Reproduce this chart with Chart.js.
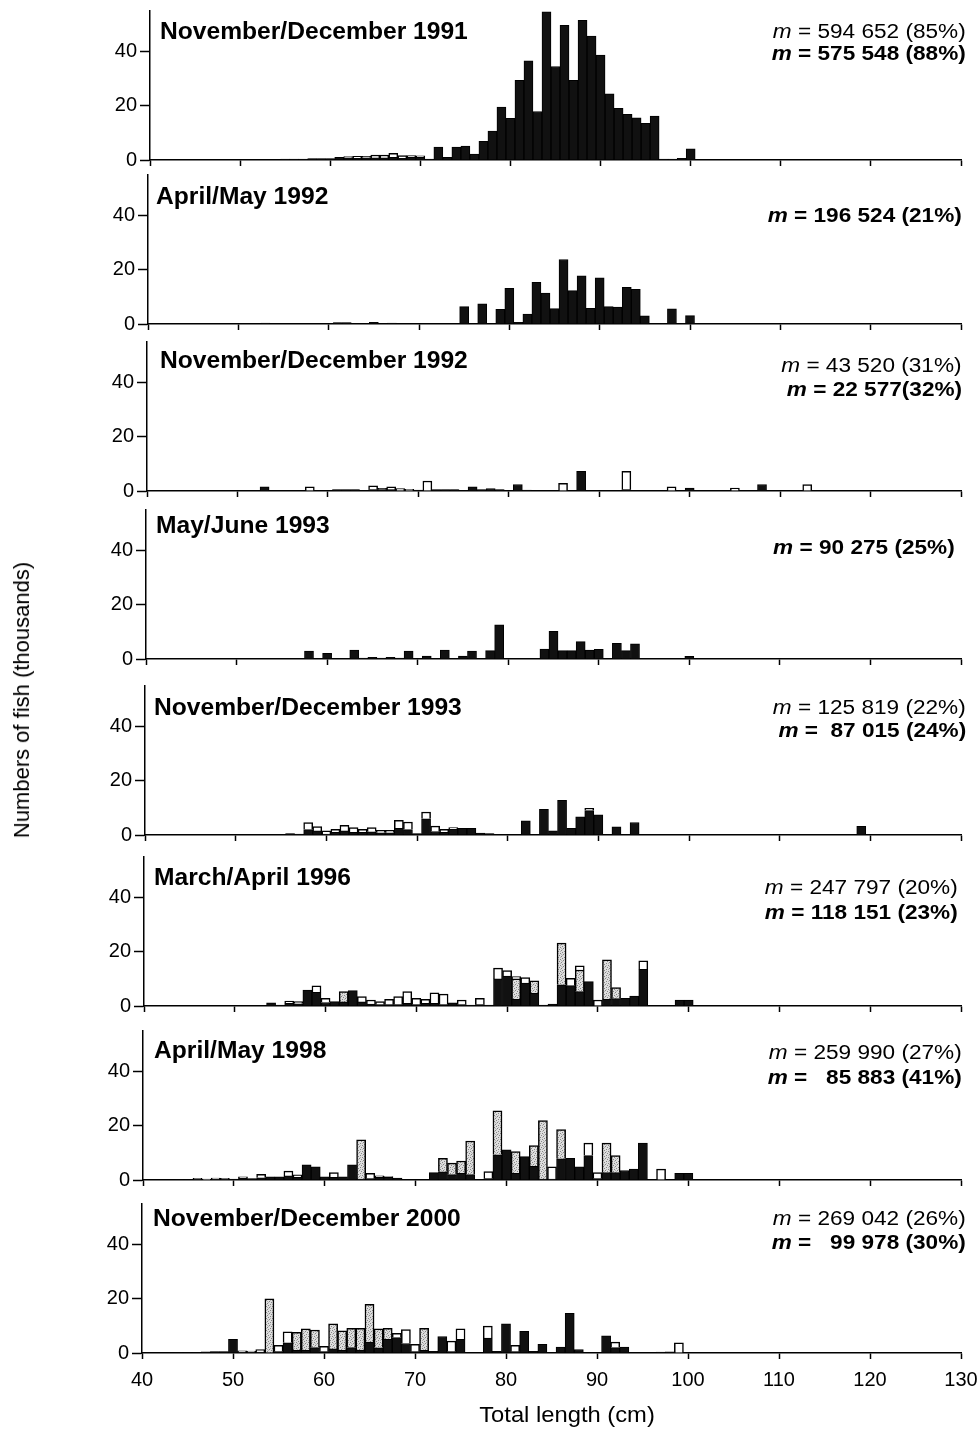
<!DOCTYPE html>
<html>
<head>
<meta charset="utf-8">
<title>Length frequency distributions</title>
<script src="https://cdn.jsdelivr.net/npm/chart.js@4.4.1/dist/chart.umd.min.js"></script>
<style>
  html, body { margin: 0; padding: 0; background: #fff; }
  #page {
    position: relative; width: 979px; height: 1431px; overflow: hidden;
    font-family: 'Liberation Sans', Arial, sans-serif; color: #000;
  }
  #page canvas { position: absolute; left: 0; }
  .txt { position: absolute; white-space: pre; z-index: 2; }
  .title { font-weight: bold; font-size: 23px; line-height: 23px; transform-origin: left center; transform: scaleX(1.07); }
  .mline { font-size: 20px; line-height: 20px; transform-origin: right center; transform: scaleX(1.13); }
  .mline.b { font-weight: bold; }
  .ytitle { font-size: 22px; line-height: 22px; transform: translate(-50%, -50%) rotate(-90deg); }
  .xtitle { font-size: 22px; line-height: 22px; transform: translate(-50%, -50%) scaleX(1.08); }
</style>
</head>
<body>
<div id="page"></div>
<script>
// length classes (cm), one bar per class
const lengthsCm = [
  40, 41, 42, 43, 44, 45, 46, 47, 48, 49,
  50, 51, 52, 53, 54, 55, 56, 57, 58, 59,
  60, 61, 62, 63, 64, 65, 66, 67, 68, 69,
  70, 71, 72, 73, 74, 75, 76, 77, 78, 79,
  80, 81, 82, 83, 84, 85, 86, 87, 88, 89,
  90, 91, 92, 93, 94, 95, 96, 97, 98, 99,
  100, 101, 102, 103, 104, 105, 106, 107, 108, 109,
  110, 111, 112, 113, 114, 115, 116, 117, 118, 119,
  120
];
const xTickValues = [40, 50, 60, 70, 80, 90, 100, 110, 120, 130];
const yTickValues = [0, 20, 40];

const panelTitles = [
  'November/December 1991', 'April/May 1992', 'November/December 1992', 'May/June 1993',
  'November/December 1993', 'March/April 1996', 'April/May 1998', 'November/December 2000'
];
const mRegular = ['594 652 (85%)', '', '43 520 (31%)', '', '125 819 (22%)', '247 797 (20%)', '259 990 (27%)', '269 042 (26%)'];
const mBold = ['575 548 (88%)', '196 524 (21%)', '22 577(32%)', '90 275 (25%)', ' 87 015 (24%)', '118 151 (23%)', '  85 883 (41%)', '  99 978 (30%)'];

// numbers of fish (thousands) per length class, 40..120 cm
const black1991 = [
  0, 0, 0, 0, 0, 0, 0, 0, 0, 0,
  0, 0, 0, 0, 0, 0.3, 0.3, 0.3, 0.5, 0.5,
  0.5, 1.0, 0.8, 0.6, 0.8, 0.8, 0.8, 1.0, 0.6, 1.0,
  1.0, 0.3, 4.8, 1.0, 4.8, 5.1, 2.2, 6.9, 10.7, 19.5,
  15.4, 29.4, 36.6, 17.9, 54.7, 34.5, 49.7, 29.4, 51.6, 45.7,
  38.7, 24.4, 19.1, 16.9, 15.6, 13.5, 16.2, 0.3, 0.3, 0.6,
  4.1, 0, 0, 0, 0, 0, 0, 0, 0, 0,
  0, 0, 0, 0, 0, 0, 0, 0, 0, 0,
  0
];
const open1991 = [
  0, 0, 0, 0, 0, 0, 0, 0, 0, 0,
  0, 0, 0, 0, 0, 0, 0, 0, 0, 0,
  0, 0, 0.5, 0.8, 0.6, 1.0, 1.0, 1.5, 1.0, 0.6,
  0.5, 0, 0, 0, 0, 0, 0, 0, 0, 0,
  0, 0, 0, 0, 0, 0, 0, 0, 0, 0,
  0, 0, 0, 0, 0, 0, 0, 0, 0, 0,
  0, 0, 0, 0, 0, 0, 0, 0, 0, 0,
  0, 0, 0, 0, 0, 0, 0, 0, 0, 0,
  0
];
const stip1991 = [
  0, 0, 0, 0, 0, 0, 0, 0, 0, 0,
  0, 0, 0, 0, 0, 0, 0, 0, 0, 0,
  0, 0, 0, 0, 0, 0, 0, 0, 0, 0,
  0, 0, 0, 0, 0, 0, 0, 0, 0, 0,
  0, 0, 0, 0, 0, 0, 0, 0, 0, 0,
  0, 0, 0, 0, 0, 0, 0, 0, 0, 0,
  0, 0, 0, 0, 0, 0, 0, 0, 0, 0,
  0, 0, 0, 0, 0, 0, 0, 0, 0, 0,
  0
];

const black1992a = [
  0, 0, 0, 0, 0, 0, 0, 0, 0, 0,
  0, 0, 0, 0.3, 0, 0, 0, 0, 0, 0,
  0, 0.5, 0.5, 0, 0, 0.6, 0, 0.3, 0, 0,
  0, 0, 0, 0, 0, 6.4, 0, 7.4, 0, 5.4,
  13.2, 0.6, 3.7, 15.4, 11.4, 5.7, 23.8, 12.3, 17.8, 5.8,
  17.0, 6.4, 6.2, 13.5, 12.8, 3.0, 0, 0, 5.6, 0,
  3.1, 0, 0, 0, 0, 0, 0, 0, 0, 0,
  0, 0, 0, 0, 0, 0, 0, 0, 0, 0,
  0
];
const open1992a = stip1991;
const stip1992a = stip1991;

const black1992b = [
  0, 0, 0, 0, 0, 0, 0, 0, 0, 0,
  0, 0, 0, 1.5, 0, 0, 0, 0, 0, 0,
  0, 0.5, 0.5, 0.5, 0, 0.5, 0.5, 0.5, 0, 0,
  0.3, 0, 0.5, 0.5, 0.5, 0, 1.5, 0.5, 0.9, 0.5,
  0, 2.4, 0.3, 0, 0, 0, 0, 0, 7.3, 0,
  0, 0, 0, 0.5, 0, 0, 0, 0, 0, 0,
  1.1, 0, 0, 0, 0, 0, 0, 0, 2.4, 0,
  0, 0, 0, 0, 0, 0, 0, 0, 0, 0,
  0
];
const open1992b = [
  0, 0, 0, 0, 0, 0, 0, 0, 0, 0,
  0, 0, 0, 0, 0, 0, 0, 0, 1.5, 0,
  0, 0, 0, 0, 0, 1.4, 0.5, 1.0, 0.9, 0.6,
  0, 3.7, 0, 0, 0, 0, 0, 0, 0, 0,
  0, 0, 0, 0, 0, 0, 2.8, 0, 0, 0,
  0, 0, 0, 6.8, 0, 0, 0, 0, 1.5, 0,
  0, 0, 0, 0, 0, 1.1, 0, 0, 0, 0,
  0, 0, 0, 2.4, 0, 0, 0, 0, 0, 0,
  0
];
const stip1992b = stip1991;

const black1993a = [
  0, 0, 0, 0, 0, 0, 0, 0, 0, 0,
  0, 0, 0, 0, 0, 0, 0, 0, 2.9, 0,
  2.1, 0, 0, 3.3, 0.3, 0.6, 0.3, 0.6, 0.3, 2.9,
  0, 1.1, 0, 3.3, 0, 1.1, 2.9, 0, 3.1, 12.6,
  0, 0, 0, 0, 3.7, 10.2, 3.1, 3.1, 6.4, 3.3,
  3.6, 0, 5.8, 3.1, 5.6, 0, 0, 0, 0, 0,
  1.0, 0, 0, 0, 0, 0, 0, 0, 0, 0,
  0, 0, 0, 0, 0, 0, 0, 0, 0, 0,
  0
];
const open1993a = stip1991;
const stip1993a = stip1991;

const black1993b = [
  0, 0, 0, 0, 0, 0, 0, 0, 0, 0,
  0, 0, 0, 0, 0, 0, 0.5, 0.3, 2.0, 1.5,
  0.3, 1.0, 1.5, 1.0, 1.0, 1.2, 0.8, 0.8, 2.5, 2.0,
  0.5, 6.0, 1.3, 1.0, 2.2, 2.5, 2.5, 0.7, 0.5, 0,
  0, 0, 5.2, 0, 9.5, 1.5, 12.8, 2.5, 6.7, 9.0,
  7.4, 0, 3.0, 0, 4.6, 0, 0, 0, 0, 0,
  0, 0, 0, 0, 0, 0, 0, 0, 0, 0,
  0, 0, 0, 0, 0, 0, 0, 0, 0, 3.2,
  0
];
const open1993b = [
  0, 0, 0, 0, 0, 0, 0, 0, 0, 0,
  0, 0, 0, 0, 0, 0, 0, 0, 2.6, 1.6,
  1.2, 1.1, 2.1, 1.7, 1.1, 1.5, 0.9, 0.9, 2.9, 2.8,
  0, 2.5, 2.0, 1.1, 0.5, 0, 0, 0, 0, 0,
  0, 0, 0, 0, 0, 0, 0, 0, 0, 0.8,
  0, 0, 0, 0, 0, 0, 0, 0, 0, 0,
  0, 0, 0, 0, 0, 0, 0, 0, 0, 0,
  0, 0, 0, 0, 0, 0, 0, 0, 0, 0,
  0
];
const stip1993b = stip1991;

const black1996 = [
  0, 0, 0, 0, 0, 0, 0, 0, 0, 0,
  0, 0, 0, 0, 1.2, 0.3, 1.0, 0.8, 5.9, 5.0,
  1.3, 1.6, 1.5, 5.7, 1.5, 0.7, 0.5, 0.5, 0.5, 1.0,
  0.5, 1.0, 1.0, 0.5, 1.2, 0.5, 0.3, 0.5, 0.3, 10.0,
  11.0, 2.5, 8.5, 4.7, 0.3, 0.7, 7.8, 7.5, 5.3, 9.0,
  0, 2.5, 2.7, 2.8, 3.7, 13.5, 0, 0, 0, 2.2,
  2.2, 0, 0, 0, 0, 0, 0, 0, 0, 0,
  0, 0, 0, 0, 0, 0, 0, 0, 0, 0,
  0
];
const open1996 = [
  0, 0, 0, 0, 0, 0, 0, 0, 0, 0,
  0, 0, 0, 0, 0, 0, 0.8, 0.8, 0, 2.4,
  1.5, 0, 0, 0, 2.0, 1.5, 1.1, 2.0, 3.0, 4.3,
  2.3, 1.5, 3.9, 3.9, 0, 1.7, 0, 2.3, 0, 4.0,
  2.1, 0.9, 2.0, 0, 0, 0, 0, 2.7, 1.5, 0,
  2.2, 0, 0, 0, 0, 3.2, 0, 0, 0, 0,
  0, 0, 0, 0, 0, 0, 0, 0, 0, 0,
  0, 0, 0, 0, 0, 0, 0, 0, 0, 0,
  0
];
const stip1996 = [
  0, 0, 0, 0, 0, 0, 0, 0, 0, 0,
  0, 0, 0, 0, 0, 0, 0, 0, 0, 0,
  0, 0, 3.8, 0, 0, 0, 0, 0, 0, 0,
  0, 0, 0, 0, 0, 0, 0, 0, 0, 0,
  0, 7.5, 0, 4.6, 0, 0, 15.4, 0, 8.0, 0,
  0, 14.5, 4.1, 0, 0, 0, 0, 0, 0, 0,
  0, 0, 0, 0, 0, 0, 0, 0, 0, 0,
  0, 0, 0, 0, 0, 0, 0, 0, 0, 0,
  0
];

const black1998 = [
  0, 0, 0, 0, 0.2, 0.2, 0.3, 0, 0.3, 0.3,
  0.3, 0.6, 0.5, 0.8, 1.2, 1.2, 1.5, 1.0, 5.6, 4.9,
  1.2, 1.0, 1.2, 5.6, 0.3, 0.5, 1.0, 1.0, 0.7, 0,
  0, 0, 2.7, 3.0, 2.0, 2.5, 2.0, 0, 0.5, 9.3,
  11.1, 2.5, 8.6, 5.0, 0.3, 0.3, 7.8, 8.0, 4.9, 9.0,
  0.5, 2.7, 2.7, 3.5, 4.0, 13.6, 0, 0, 0, 2.5,
  2.5, 0, 0, 0, 0, 0, 0, 0, 0, 0,
  0, 0, 0, 0, 0, 0, 0, 0, 0, 0,
  0
];
const open1998 = [
  0, 0, 0, 0, 0, 0, 0.3, 0.3, 0.4, 0.3,
  0, 0.6, 0, 1.3, 0, 0, 1.8, 0.9, 0, 0,
  0, 1.7, 0, 0, 0, 2.0, 0.5, 0.3, 0, 0,
  0, 0, 0, 0, 0, 0, 0, 0, 2.6, 0,
  0, 0, 0, 0, 0, 4.6, 0, 0, 0, 4.6,
  2.2, 0, 0, 0, 0, 0, 0, 4.0, 0, 0,
  0, 0, 0, 0, 0, 0, 0, 0, 0, 0,
  0, 0, 0, 0, 0, 0, 0, 0, 0, 0,
  0
];
const stip1998 = [
  0, 0, 0, 0, 0, 0, 0, 0, 0, 0,
  0, 0, 0, 0, 0, 0, 0, 0, 0, 0,
  0, 0, 0, 0, 14.5, 0, 0, 0, 0, 0,
  0, 0, 0, 5.0, 4.2, 4.5, 12.4, 0, 0, 16.2,
  0, 8.0, 0, 7.7, 21.6, 0, 10.8, 0, 0, 0,
  0, 10.9, 6.3, 0, 0, 0, 0, 0, 0, 0,
  0, 0, 0, 0, 0, 0, 0, 0, 0, 0,
  0, 0, 0, 0, 0, 0, 0, 0, 0, 0,
  0
];

const black2000 = [
  0, 0, 0, 0, 0.2, 0.2, 0.2, 0.4, 0.5, 0.5,
  5.0, 0.3, 0.3, 0.3, 0, 0.5, 3.8, 1.0, 1.0, 2.0,
  0.5, 1.5, 1.0, 2.0, 1.1, 4.0, 1.9, 5.0, 5.7, 3.5,
  0.5, 1.0, 0.6, 6.1, 0.5, 5.0, 0, 0, 5.5, 0.6,
  10.8, 0.5, 8.0, 0.6, 3.2, 0, 2.2, 14.6, 1.3, 0,
  0, 6.3, 2.0, 2.2, 0, 0, 0, 0.3, 0.4, 0,
  0, 0, 0, 0, 0, 0, 0, 0, 0, 0,
  0, 0, 0, 0, 0, 0, 0, 0, 0, 0,
  0
];
const open2000 = [
  0, 0, 0, 0, 0, 0, 0, 0, 0, 0,
  0, 0.5, 0.4, 1.0, 0, 2.3, 4.0, 0, 0, 0,
  2.0, 0, 0, 0, 0, 0, 0, 0, 1.6, 5.1,
  2.7, 0, 0, 0, 3.9, 3.9, 0, 0, 4.4, 0,
  0, 2.3, 0, 0, 0, 0, 0, 0, 0, 0,
  0, 0, 2.0, 0, 0, 0, 0, 0, 0, 3.8,
  0, 0, 0, 0, 0, 0, 0, 0, 0, 0,
  0, 0, 0, 0, 0, 0, 0, 0, 0, 0,
  0
];
const stip2000 = [
  0, 0, 0, 0, 0, 0, 0, 0, 0, 0,
  0, 0, 0, 0, 20.0, 0, 0, 6.6, 7.9, 6.5,
  0, 9.3, 7.2, 7.1, 8.0, 14.0, 7.0, 4.1, 0, 0,
  0, 8.1, 0, 0, 0, 0, 0, 0, 0, 0,
  0, 0, 0, 0, 0, 0, 0, 0, 0, 0,
  0, 0, 0, 0, 0, 0, 0, 0, 0, 0,
  0, 0, 0, 0, 0, 0, 0, 0, 0, 0,
  0, 0, 0, 0, 0, 0, 0, 0, 0, 0,
  0
];

const blackSeries = [black1991, black1992a, black1992b, black1993a, black1993b, black1996, black1998, black2000];
const openSeries = [open1991, open1992a, open1992b, open1993a, open1993b, open1996, open1998, open2000];
const stipSeries = [stip1991, stip1992a, stip1992b, stip1993a, stip1993b, stip1996, stip1998, stip2000];

// layout (page pixels)
const PAGE_W = 979, PAGE_H = 1431;
const PLOT_H = 149, TOP_PAD = 14, INNER_X_H = 14, PLOT_RIGHT = 961;
const panelBase = [160, 324, 491, 659, 835, 1006, 1180, 1353];
const panelLeft = [150, 148, 147, 146, 145, 144, 143, 142];
const titleLeft = [160, 156, 160, 156, 154, 154, 154, 153];
const titleY = [31, 196, 360, 525, 707, 877, 1050, 1218];
const mRight = [966, 962, 962, 955, 966, 958, 962, 966];
const mY1 = [31, null, 365, null, 707, 887, 1052, 1218];
const mY2 = [53, 215, 389, 547, 730, 912, 1077, 1242];

const FONT = "'Liberation Sans', Arial, sans-serif";
Chart.defaults.font.family = FONT;
Chart.defaults.color = '#000';

const page = document.getElementById('page');

// light grey stipple used for the third category
const stipple = (() => {
  const c = document.createElement('canvas');
  c.width = 6; c.height = 6;
  const g = c.getContext('2d');
  g.fillStyle = '#dedede';
  g.fillRect(0, 0, 6, 6);
  g.fillStyle = '#858585';
  [[0, 0], [4, 1], [2, 2], [5, 3], [1, 4], [3, 5]].forEach(([x, y]) => g.fillRect(x, y, 1, 1));
  g.fillStyle = '#b4b4b4';
  [[2, 0], [0, 2], [4, 4], [3, 3]].forEach(([x, y]) => g.fillRect(x, y, 1, 1));
  return g.createPattern(c, 'repeat');
})();

function addText(cls, html, style) {
  const d = document.createElement('div');
  d.className = 'txt ' + cls;
  d.innerHTML = html;
  Object.assign(d.style, style);
  page.appendChild(d);
}

function makePanel(i) {
  const base = panelBase[i];
  const last = i === panelBase.length - 1;
  const top = base - PLOT_H - TOP_PAD;
  const height = last ? PAGE_H - top : TOP_PAD + PLOT_H + INNER_X_H;

  const cv = document.createElement('canvas');
  cv.width = PAGE_W;
  cv.height = height;
  cv.style.top = top + 'px';
  page.appendChild(cv);

  new Chart(cv.getContext('2d'), {
    type: 'bar',
    data: {
      labels: lengthsCm,
      datasets: [
        { label: 'black', data: blackSeries[i], backgroundColor: '#111', borderColor: '#000', borderWidth: 1 },
        { label: 'stippled', data: stipSeries[i], backgroundColor: stipple, borderColor: '#000', borderWidth: 1.5 },
        { label: 'open', data: openSeries[i], backgroundColor: '#fff', borderColor: '#000', borderWidth: 1.5 }
      ]
    },
    options: {
      responsive: false,
      animation: false,
      events: [],
      layout: { padding: { top: TOP_PAD, right: PAGE_W - PLOT_RIGHT, bottom: 0, left: 0 } },
      datasets: { bar: { barPercentage: 1, categoryPercentage: 1 } },
      plugins: { legend: { display: false }, tooltip: { enabled: false } },
      scales: {
        x: {
          type: 'linear',
          min: 40,
          max: 130,
          stacked: true,
          offset: false,
          afterBuildTicks: a => { a.ticks = xTickValues.map(v => ({ value: v })); },
          afterFit: a => {
            a.height = last ? PAGE_H - base : INNER_X_H;
            a.paddingLeft = 0;
            a.paddingRight = 0;
          },
          grid: { offset: false, drawOnChartArea: false, tickLength: 6, tickColor: '#000', tickWidth: 1.5 },
          border: { color: '#000', width: 1.5 },
          ticks: { display: last, padding: 9, maxRotation: 0, font: { size: 20 } }
        },
        y: {
          min: 0,
          max: 55,
          stacked: true,
          afterBuildTicks: a => { a.ticks = yTickValues.map(v => ({ value: v })); },
          afterFit: a => {
            a.width = panelLeft[i];
            a.paddingTop = 0;
            a.paddingBottom = 0;
          },
          grid: { drawOnChartArea: false, tickLength: 10, tickColor: '#000', tickWidth: 1.5 },
          border: { color: '#000', width: 1.5 },
          ticks: { padding: 3, font: { size: 20 } }
        }
      }
    }
  });

  addText('title', panelTitles[i], { left: titleLeft[i] + 'px', top: (titleY[i] - 11) + 'px' });
  if (mRegular[i]) {
    addText('mline', '<i>m</i> = ' + mRegular[i], { right: (PAGE_W - mRight[i]) + 'px', top: (mY1[i] - 10) + 'px' });
  }
  addText('mline b', '<i>m</i> = ' + mBold[i], { right: (PAGE_W - mRight[i]) + 'px', top: (mY2[i] - 10) + 'px' });
}

for (let i = 0; i < panelBase.length; i++) makePanel(i);

addText('ytitle', 'Numbers of fish (thousands)', { left: '22px', top: '700px' });
addText('xtitle', 'Total length (cm)', { left: '567px', top: '1415px' });
</script>
</body>
</html>
